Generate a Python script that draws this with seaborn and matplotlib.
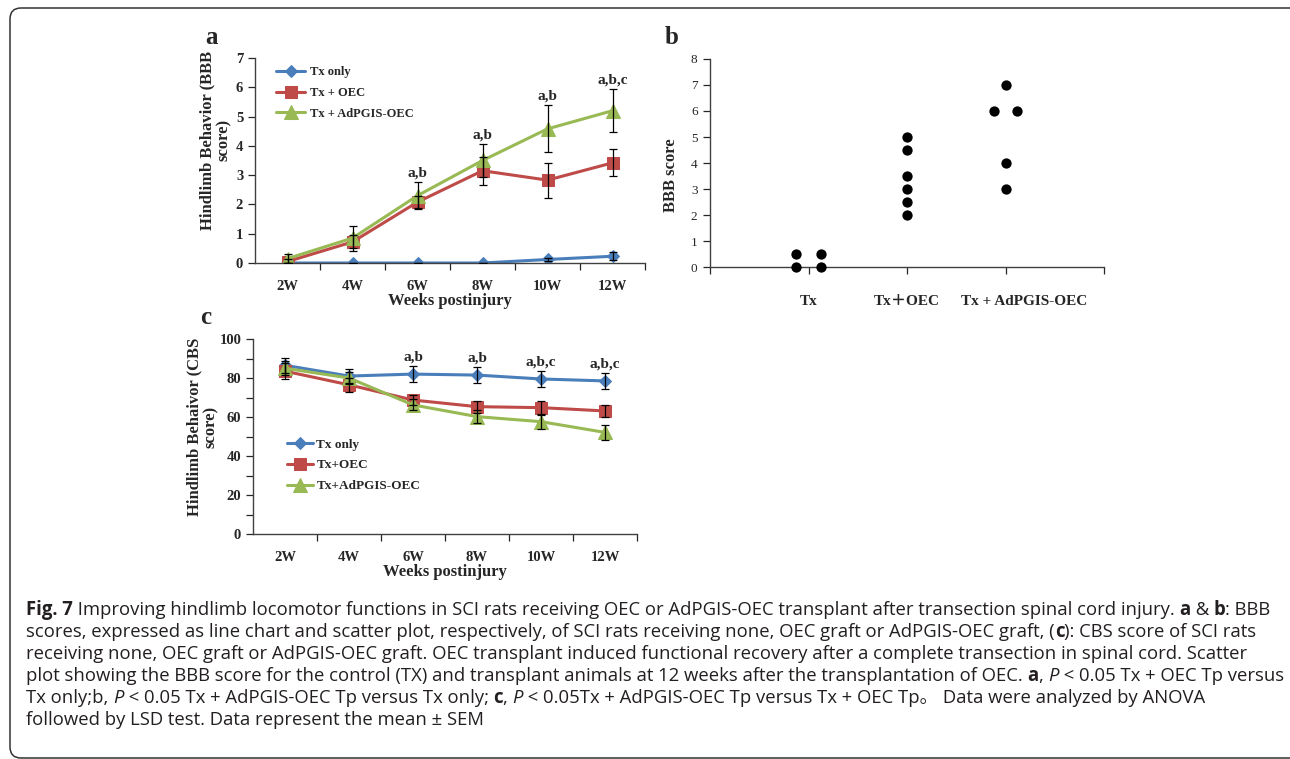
import numpy as np
import pandas as pd
import seaborn as sns
import matplotlib.pyplot as plt
from matplotlib.patches import FancyBboxPatch
from matplotlib.transforms import IdentityTransform, ScaledTranslation

# ---- data ----
weeks = ['2W', '4W', '6W', '8W', '10W', '12W']

# panel a: BBB score
bbb_tx = [0, 0, 0, 0, 0.12, 0.23]
bbb_tx_err = [0, 0, 0, 0, 0.06, 0.13]
bbb_oec = [0.05, 0.72, 2.08, 3.15, 2.83, 3.42]
bbb_oec_err = [0.1, 0.22, 0.2, 0.48, 0.6, 0.46]
bbb_pgis = [0.15, 0.85, 2.3, 3.5, 4.58, 5.2]
bbb_pgis_err = [0.15, 0.43, 0.45, 0.55, 0.8, 0.74]
sig_a = ['', '', 'a,b', 'a,b', 'a,b', 'a,b,c']
names_a = ['Tx only', 'Tx + OEC', 'Tx + AdPGIS-OEC']

# panel b: BBB score at 12 weeks, individual animals
b_x = [0.875, 0.875, 1.125, 1.125, 2, 2, 2, 2, 2, 2, 3, 2.88, 3.12, 3, 3]
b_y = [0.5, 0, 0.5, 0, 5, 4.5, 3.5, 3, 2.5, 2, 7, 6, 6, 4, 3]
b_groups = ['Tx', 'Tx\uff0bOEC', 'Tx + AdPGIS-OEC']

# panel c: CBS score
cbs_tx = [86.5, 81, 82, 81.5, 79.5, 78.5]
cbs_tx_err = [4, 3.6, 4.2, 4, 4, 4.2]
cbs_oec = [83.5, 76.5, 68.7, 65.3, 64.8, 63.1]
cbs_oec_err = [4, 3.5, 2.5, 3, 3.2, 3]
cbs_pgis = [85, 80, 66.2, 60.2, 57.6, 52.1]
cbs_pgis_err = [3.5, 3, 2.8, 3.2, 3.5, 4]
sig_c = ['', '', 'a,b', 'a,b', 'a,b,c', 'a,b,c']
names_c = ['Tx only', 'Tx+OEC', 'Tx+AdPGIS-OEC']

caption = [
    [('Fig. 7', 'bold', 'normal'),
     (' Improving hindlimb locomotor functions in SCI rats receiving OEC or AdPGIS-OEC transplant after transection spinal cord injury. ', 'normal', 'normal'),
     ('a', 'bold', 'normal'), (' & ', 'normal', 'normal'), ('b', 'bold', 'normal'), (': BBB', 'normal', 'normal')],
    [('scores, expressed as line chart and scatter plot, respectively, of SCI rats receiving none, OEC graft or AdPGIS-OEC graft, (', 'normal', 'normal'),
     ('c', 'bold', 'normal'), ('): CBS score of SCI rats', 'normal', 'normal')],
    [('receiving none, OEC graft or AdPGIS-OEC graft. OEC transplant induced functional recovery after a complete transection in spinal cord. Scatter', 'normal', 'normal')],
    [('plot showing the BBB score for the control (TX) and transplant animals at 12 weeks after the transplantation of OEC. ', 'normal', 'normal'),
     ('a', 'bold', 'normal'), (', ', 'normal', 'normal'), ('P', 'normal', 'italic'),
     (' < 0.05 Tx + OEC Tp versus', 'normal', 'normal')],
    [('Tx only;b, ', 'normal', 'normal'), ('P', 'normal', 'italic'),
     (' < 0.05 Tx + AdPGIS-OEC Tp versus Tx only; ', 'normal', 'normal'),
     ('c', 'bold', 'normal'), (', ', 'normal', 'normal'), ('P', 'normal', 'italic'),
     (' < 0.05Tx + AdPGIS-OEC Tp versus Tx + OEC Tp\u3002 Data were analyzed by ANOVA', 'normal', 'normal')],
    [('followed by LSD test. Data represent the mean \u00b1 SEM', 'normal', 'normal')],
]

colors = ['#4a7ebb', '#be4b48', '#98b954']
markers = ['D', 's', '^']
msizes = [6, 9, 9.5]

sns.set_style('ticks')
serif = ['Liberation Serif', 'DejaVu Serif', 'Noto Sans CJK SC']
plt.rcParams['font.family'] = serif
plt.rcParams['axes.linewidth'] = 1.0

W, H = 1290, 759
fig = plt.figure(figsize=(W / 100, H / 100), dpi=100)


def box(l, t, r, b):
    return [l / W, 1 - b / H, (r - l) / W, (b - t) / H]


def line_panel(ax, vals, errs, sig, names, ymax, ystep, minor):
    x = np.arange(len(weeks))
    df = pd.DataFrame({'week': np.tile(x, 3),
                       'score': np.concatenate(vals),
                       'group': np.repeat(names, len(weeks))})
    for i, g in enumerate(names):
        sub = df[df['group'] == g]
        sns.lineplot(data=sub, x='week', y='score', ax=ax, color=colors[i],
                     marker=markers[i], markersize=msizes[i], linewidth=2.2,
                     markeredgecolor=colors[i], errorbar=None, label=g, zorder=2)
        ax.errorbar(x, vals[i], yerr=errs[i], fmt='none', ecolor='black',
                    elinewidth=0.9, capsize=3, capthick=0.9, zorder=3)
    top = np.max(np.array(vals) + np.array(errs), axis=0)
    for xi, s in enumerate(sig):
        if s:
            ax.text(xi, top[xi] + ymax * 0.012, s, ha='center', va='bottom',
                    fontsize=11, fontweight='bold')
    ax.set_xlim(-0.5, len(weeks) - 0.5)
    ax.set_ylim(0, ymax)
    ax.set_xticks(x)
    ax.set_xticklabels(weeks, fontsize=10.5, fontweight='bold')
    ax.set_xticks(np.arange(0.5, len(weeks), 1), minor=True)
    ax.tick_params(axis='x', which='major', length=0, pad=12)
    ax.tick_params(axis='x', which='minor', length=5, width=0.9, direction='out')
    ax.set_yticks(np.arange(0, ymax + 0.01, ystep))
    ax.set_yticklabels([f'{v:g}' for v in np.arange(0, ymax + 0.01, ystep)],
                       fontsize=10.5, fontweight='bold')
    if minor:
        ax.set_yticks(np.arange(0, ymax + 0.01, minor), minor=True)
    ax.tick_params(axis='y', which='both', length=5, width=0.9, direction='out')
    ax.set_xlabel('Weeks postinjury', fontsize=12, fontweight='bold', labelpad=0)
    sns.despine(ax=ax)
    for sp in ax.spines.values():
        sp.set_color('#404040')


# ---- panel a ----
ax_a = fig.add_axes(box(255, 58, 645, 263))
line_panel(ax_a, [bbb_tx, bbb_oec, bbb_pgis], [bbb_tx_err, bbb_oec_err, bbb_pgis_err],
           sig_a, names_a, 7, 1, None)
ax_a.set_ylabel('Hindlimb Behavior (BBB\nscore)', fontsize=12, fontweight='bold',
                linespacing=1.0)
ax_a.yaxis.set_label_coords(-0.06, 0.6)
ax_a.legend(loc='upper left', bbox_to_anchor=(0.055, 0.96), frameon=False,
            prop={'weight': 'bold', 'size': 9}, handlelength=2.3,
            handletextpad=0.35, labelspacing=0.7, borderpad=0, borderaxespad=0)
fig.text(212 / W, 1 - 37 / H, 'a', fontsize=18, fontweight='bold', ha='center', va='center')

# ---- panel b ----
ax_b = fig.add_axes(box(710, 59, 1104, 267))
sns.scatterplot(x=b_x, y=b_y, ax=ax_b, color='black', s=55, edgecolor='black',
                linewidth=0, zorder=3, clip_on=False)
ax_b.set_xlim(0, 4)
ax_b.set_ylim(0, 8)
ax_b.set_xticks(np.arange(0, 5))
ax_b.set_xticklabels([''] + b_groups + [''], fontsize=11, fontweight='bold')
ax_b.tick_params(axis='x', length=5, width=0.9, direction='out', pad=15)
# the long group name sits a little to the right of its tick
shift = ScaledTranslation(19 / 100, 0, fig.dpi_scale_trans)
lab3 = ax_b.get_xticklabels()[3]
lab3.set_transform(lab3.get_transform() + shift)
ax_b.set_yticks(np.arange(0, 9))
ax_b.set_yticklabels([str(v) for v in range(9)], fontsize=9.5)
ax_b.tick_params(axis='y', length=5, width=0.9, direction='out', pad=4)
ax_b.set_ylabel('BBB score', fontsize=12, fontweight='bold')
ax_b.yaxis.set_label_coords(-0.078, 0.44)
sns.despine(ax=ax_b)
for sp in ax_b.spines.values():
    sp.set_color('#404040')
fig.text(672 / W, 1 - 38 / H, 'b', fontsize=18, fontweight='bold', ha='center', va='center')

# ---- panel c ----
ax_c = fig.add_axes(box(253, 339, 637, 534))
line_panel(ax_c, [cbs_tx, cbs_oec, cbs_pgis], [cbs_tx_err, cbs_oec_err, cbs_pgis_err],
           sig_c, names_c, 100, 20, 10)
ax_c.set_ylabel('Hindlimb Behaivor (CBS\nscore)', fontsize=12, fontweight='bold',
                linespacing=1.0)
ax_c.yaxis.set_label_coords(-0.09, 0.55)
ax_c.legend(loc='upper left', bbox_to_anchor=(0.088, 0.49), frameon=False,
            prop={'weight': 'bold', 'size': 9.5}, handlelength=2.0,
            handletextpad=0.25, labelspacing=0.65, borderpad=0, borderaxespad=0)
fig.text(206 / W, 1 - 318 / H, 'c', fontsize=18, fontweight='bold', ha='center', va='center')

# ---- caption ----
renderer = fig.canvas.get_renderer()
cap_family = ['Open Sans', 'DejaVu Sans', 'Noto Sans CJK SC']


def seg_width(s, size, weight, style):
    t = fig.text(0, 0, s + '|', fontsize=size, fontweight=weight, fontstyle=style,
                 family=cap_family)
    w1 = t.get_window_extent(renderer).width
    t.set_text('|')
    w2 = t.get_window_extent(renderer).width
    t.remove()
    return w1 - w2


base = 11.5
w_first = sum(seg_width(s, base, wt, st) for s, wt, st in caption[0])
cap_size = base * (1273 - 26) / w_first

for k, segs in enumerate(caption):
    x = 26
    y = 610 + k * 22
    for s, wt, st in segs:
        fig.text(x / W, 1 - y / H, s, fontsize=cap_size, fontweight=wt, fontstyle=st,
                 family=cap_family, color='#231f20', ha='left', va='center')
        x += seg_width(s, cap_size, wt, st)

# rounded frame, partly running off the right edge
frame = FancyBboxPatch((10, H - 758), 1300, 750, boxstyle='round,pad=0,rounding_size=11',
                       transform=IdentityTransform(), fill=False, edgecolor='#333333',
                       linewidth=1.1)
fig.add_artist(frame)

fig.savefig('out.png', dpi=100)
